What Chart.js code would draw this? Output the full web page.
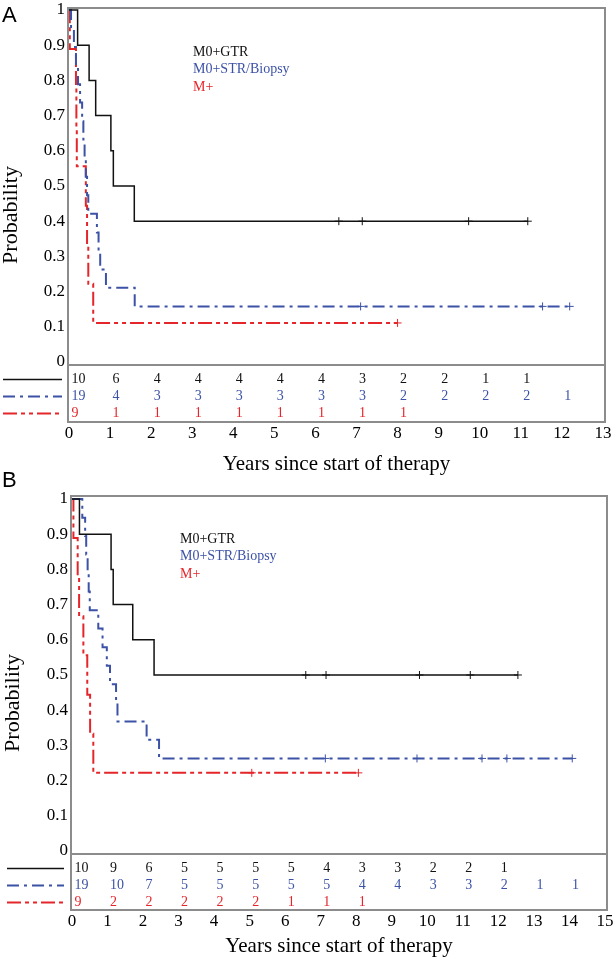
<!DOCTYPE html>
<html>
<head>
<meta charset="utf-8">
<script src="https://cdn.jsdelivr.net/npm/chart.js@4.4.1/dist/chart.umd.min.js"></script>
<style>
  html, body { margin: 0; padding: 0; background: #fff; }
  body { width: 616px; height: 962px; position: relative; overflow: hidden; }
  .panel { position: absolute; left: 0; width: 616px; height: 481px; }
  .letter { position: absolute; left: 2px; font: 22px 'Liberation Sans', Arial, sans-serif; line-height: 22px; color: #000; }
</style>
</head>
<body>
<div class="panel" style="top:0"><canvas id="chartA" width="616" height="481"></canvas></div>
<div class="panel" style="top:481px"><canvas id="chartB" width="616" height="481"></canvas></div>
<div class="letter" style="top:4px">A</div>
<div class="letter" style="top:469px">B</div>
<script>
const groupNames = ['M0+GTR', 'M0+STR/Biopsy', 'M+'];
const yTicks = [0, 0.1, 0.2, 0.3, 0.4, 0.5, 0.6, 0.7, 0.8, 0.9, 1];
const yTickLabels = ['0', '0.1', '0.2', '0.3', '0.4', '0.5', '0.6', '0.7', '0.8', '0.9', '1'];

// Panel A: step times (years) and probability after each step
const aGtrTime = [0, 0.21, 0.49, 0.65, 1.02, 1.08, 1.59, 11.17];
const aGtrProb = [1, 0.9, 0.8, 0.7, 0.6, 0.5, 0.4, 0.4];
const aGtrCensor = [6.57, 7.14, 9.73, 11.17];
const aStrTime = [0, 0.05, 0.12, 0.17, 0.22, 0.27, 0.32, 0.35, 0.38, 0.41, 0.44, 0.47, 0.68, 0.72, 0.76, 0.9, 1.6, 12.19];
const aStrProb = [1, 0.947, 0.895, 0.842, 0.789, 0.737, 0.684, 0.632, 0.579, 0.526, 0.474, 0.421, 0.368, 0.316, 0.263, 0.211, 0.158, 0.158];
const aStrCensor = [7.1, 11.53, 12.19];
const aMpTime = [0, 0.02, 0.17, 0.18, 0.19, 0.41, 0.44, 0.47, 0.59, 8.0];
const aMpProb = [1, 0.889, 0.778, 0.667, 0.556, 0.444, 0.333, 0.222, 0.111, 0.111];
const aMpCensor = [8.0];
const aGtrRisk = [10, 6, 4, 4, 4, 4, 4, 3, 2, 2, 1, 1];
const aStrRisk = [19, 4, 3, 3, 3, 3, 3, 3, 2, 2, 2, 2, 1];
const aMpRisk = [9, 1, 1, 1, 1, 1, 1, 1, 1];
const aXTicks = [0, 1, 2, 3, 4, 5, 6, 7, 8, 9, 10, 11, 12, 13];

// Panel B
const bGtrTime = [0, 0.21, 1.1, 1.16, 1.71, 2.31, 12.55];
const bGtrProb = [1, 0.9, 0.8, 0.7, 0.6, 0.5, 0.5];
const bGtrCensor = [6.58, 7.15, 9.78, 11.21, 12.55];
const bStrTime = [0, 0.29, 0.37, 0.4, 0.44, 0.47, 0.5, 0.74, 0.86, 0.98, 1.07, 1.24, 1.28, 2.1, 2.45, 14.08];
const bStrProb = [1, 0.947, 0.895, 0.842, 0.789, 0.737, 0.684, 0.632, 0.579, 0.526, 0.474, 0.421, 0.368, 0.316, 0.263, 0.263];
const bStrCensor = [7.13, 9.71, 11.54, 12.24, 14.08];
const bMpTime = [0, 0.04, 0.16, 0.2, 0.32, 0.43, 0.51, 0.6, 8.06];
const bMpProb = [1, 0.889, 0.778, 0.667, 0.556, 0.444, 0.333, 0.222, 0.222];
const bMpCensor = [5.06, 8.06];
const bGtrRisk = [10, 9, 6, 5, 5, 5, 5, 4, 3, 3, 2, 2, 1];
const bStrRisk = [19, 10, 7, 5, 5, 5, 5, 5, 4, 4, 3, 3, 2, 1, 1];
const bMpRisk = [9, 2, 2, 2, 2, 2, 1, 1, 1];
const bXTicks = [0, 1, 2, 3, 4, 5, 6, 7, 8, 9, 10, 11, 12, 13, 14, 15];

const colors = ['#111111', '#3c52a6', '#e4262b'];
const dashes = [[], [12, 5, 3, 5], [14, 4, 4, 4, 4, 4]];
const widths = [1.5, 2, 2];
const serif = '"Liberation Serif", "Times New Roman", serif';

Chart.defaults.color = '#000';
Chart.defaults.font.family = serif;

function probAt(times, probs, t) {
  let p = probs[0];
  times.forEach((tt, i) => { if (tt <= t) p = probs[i]; });
  return p;
}

function curveSets(times, probs, censor, i) {
  return [{
    data: times.map((t, k) => ({ x: t, y: probs[k] })),
    borderColor: colors[i],
    borderWidth: widths[i],
    borderDash: dashes[i],
    stepped: true,
    pointRadius: 0,
    fill: false
  }, {
    data: censor.map(t => ({ x: t, y: probAt(times, probs, t) })),
    showLine: false,
    pointStyle: 'cross',
    pointRadius: 4,
    borderWidth: 1,
    borderColor: colors[i],
    backgroundColor: colors[i]
  }];
}

const riskTable = {
  id: 'riskTable',
  afterDraw(chart, args, opts) {
    const { ctx, chartArea: a, scales: { x, y } } = chart;
    ctx.save();
    ctx.strokeStyle = '#8c8c8c';
    ctx.lineWidth = 2;
    ctx.strokeRect(a.left, a.top, a.right - a.left, a.bottom - a.top);
    const sepY = y.getPixelForValue(opts.sepValue);
    ctx.beginPath();
    ctx.moveTo(a.left, sepY);
    ctx.lineTo(a.right, sepY);
    ctx.stroke();
    ctx.textBaseline = 'middle';
    ctx.textAlign = 'left';
    opts.risks.forEach((risk, i) => {
      ctx.fillStyle = colors[i];
      ctx.font = '14px ' + serif;
      ctx.fillText(groupNames[i], opts.legendX, opts.legendY[i]);
      const rowY = sepY + opts.rowOffsets[i];
      ctx.strokeStyle = colors[i];
      ctx.lineWidth = widths[i];
      ctx.setLineDash(dashes[i]);
      ctx.beginPath();
      ctx.moveTo(opts.sampleX[0], rowY);
      ctx.lineTo(opts.sampleX[1], rowY);
      ctx.stroke();
      ctx.setLineDash([]);
      risk.forEach((n, k) => ctx.fillText(String(n), x.getPixelForValue(k) + 2.5, rowY));
    });
    ctx.restore();
  }
};

function makeChart(id, p) {
  return new Chart(document.getElementById(id), {
    type: 'line',
    data: {
      datasets: [
        ...curveSets(p.gtr[0], p.gtr[1], p.gtr[2], 0),
        ...curveSets(p.str[0], p.str[1], p.str[2], 1),
        ...curveSets(p.mp[0], p.mp[1], p.mp[2], 2)
      ]
    },
    options: {
      responsive: false,
      animation: false,
      layout: { padding: p.padding },
      plugins: {
        legend: { display: false },
        tooltip: { enabled: false },
        riskTable: {
          sepValue: -0.0085,
          risks: p.risks,
          legendX: p.legendX,
          legendY: p.legendY,
          sampleX: p.sampleX,
          rowOffsets: [14.5, 31.5, 48.5]
        }
      },
      scales: {
        x: {
          type: 'linear',
          min: p.xMin,
          max: p.xMax,
          grid: { display: false, drawTicks: false },
          border: { display: false },
          afterBuildTicks: s => { s.ticks = p.xTicks.map(v => ({ value: v })); },
          afterFit: s => { s.height = p.xAxisH; s.paddingLeft = 0; s.paddingRight = 0; },
          ticks: { padding: 1, font: { size: 17 }, callback: v => String(v) },
          title: {
            display: true,
            text: 'Years since start of therapy',
            font: { size: 21, lineHeight: 1 },
            padding: 0
          }
        },
        y: {
          type: 'linear',
          min: p.yMin,
          max: p.yMax,
          grid: { display: false, drawTicks: false },
          border: { display: false },
          afterBuildTicks: s => { s.ticks = yTicks.map(v => ({ value: v })); },
          afterFit: s => { s.width = p.yAxisW; s.paddingTop = 0; s.paddingBottom = 0; },
          ticks: { padding: 3, font: { size: 17 }, callback: (v, k) => yTickLabels[k] },
          title: {
            display: true,
            text: 'Probability',
            font: { size: 22, lineHeight: 1 },
            padding: { top: p.yTitlePad, bottom: 0 }
          }
        }
      }
    },
    plugins: [riskTable]
  });
}

makeChart('chartA', {
  gtr: [aGtrTime, aGtrProb, aGtrCensor],
  str: [aStrTime, aStrProb, aStrCensor],
  mp: [aMpTime, aMpProb, aMpCensor],
  risks: [aGtrRisk, aStrRisk, aMpRisk],
  xTicks: aXTicks,
  xMin: -0.024, xMax: 13.05,
  yMin: -0.1704, yMax: 1.0057,
  padding: { left: 0, right: 11, top: 8, bottom: 6.5 },
  xAxisH: 52.5, yAxisW: 68, yTitlePad: 0,
  legendX: 193, legendY: [52, 69, 87],
  sampleX: [3, 62]
});

makeChart('chartB', {
  gtr: [bGtrTime, bGtrProb, bGtrCensor],
  str: [bStrTime, bStrProb, bStrCensor],
  mp: [bMpTime, bMpProb, bMpCensor],
  risks: [bGtrRisk, bStrRisk, bMpRisk],
  xTicks: bXTicks,
  xMin: -0.028, xMax: 15.058,
  yMin: -0.1676, yMax: 1.0085,
  padding: { left: 0, right: 9, top: 15, bottom: 5.5 },
  xAxisH: 46.5, yAxisW: 71, yTitlePad: 2,
  legendX: 180, legendY: [58, 75, 93],
  sampleX: [7, 64]
});
</script>
</body>
</html>
